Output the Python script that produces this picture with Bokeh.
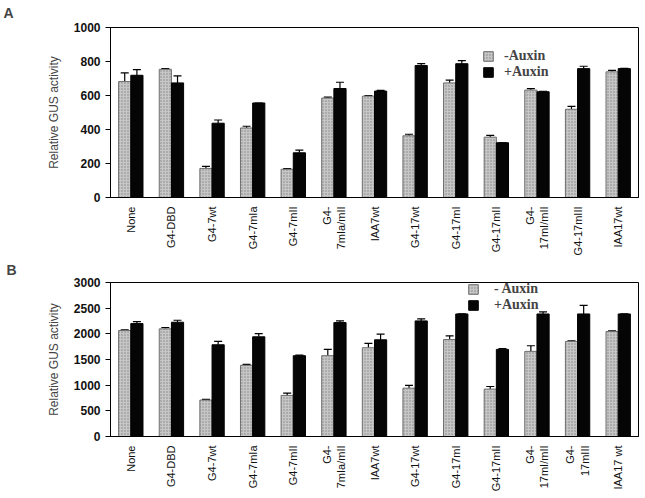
import math
from bokeh.plotting import figure
from bokeh.models import (ColumnDataSource, Whisker, TeeHead, Legend, LegendItem,
                          FixedTicker, FactorRange, Range1d)
from bokeh.transform import dodge
from bokeh.layouts import column
from bokeh.embed import file_html
from bokeh.resources import INLINE

# ---------------- data ----------------
cats_A = ["None", "G4-DBD", "G4-7wt", "G4-7mIa", "G4-7mII", "G4-\n7mIa/mII", "IAA7wt",
          "G4-17wt", "G4-17mI", "G4-17mII", "G4-\n17mI/mII", "G4-17mIII", "IAA17wt"]
minus_A = [682, 754, 171, 409, 166, 585, 596, 363, 674, 355, 632, 519, 739]
minus_A_err = [51, 4, 12, 10, 4, 5, 4, 9, 16, 11, 9, 17, 9]
plus_A = [719, 674, 437, 556, 263, 641, 626, 776, 787, 322, 622, 758, 758]
plus_A_err = [33, 41, 19, 0, 16, 37, 4, 11, 18, 0, 3, 14, 2]
yticks_A = [0, 200, 400, 600, 800, 1000]

cats_B = ["None", "G4-DBD", "G4-7wt", "G4-7mIa", "G4-7mII", "G4-\n7mIa/mII", "IAA7wt",
          "G4-17wt", "G4-17mI", "G4-17mII", "G4-\n17mI/mII", "G4-\n17mIII", "IAA17 wt"]
minus_B = [2065, 2097, 710, 1387, 800, 1574, 1729, 942, 1890, 923, 1658, 1852, 2045]
minus_B_err = [12, 26, 12, 19, 45, 123, 84, 52, 71, 51, 110, 13, 13]
plus_B = [2200, 2226, 1787, 1942, 1574, 2219, 1884, 2252, 2387, 1697, 2387, 2387, 2387]
plus_B_err = [39, 39, 65, 64, 13, 33, 110, 38, 0, 13, 39, 168, 0]
yticks_B = [0, 500, 1000, 1500, 2000, 2500, 3000]

SANS = "Liberation Sans"
SERIF = "Liberation Serif"


def panel(cats, minus, minus_err, plus, plus_err, yticks, ymax, letter, leg_txt,
          height, bl, bt, bb, title_offset, title_standoff, leg_xy, leg_standoff,
          leg_spacing):
    p = figure(x_range=FactorRange(*cats, range_padding=0), y_range=Range1d(0, ymax),
               width=640, height=height, output_backend="svg", toolbar_location=None,
               min_border_left=bl, min_border_right=2, min_border_top=bt,
               min_border_bottom=bb)
    src = ColumnDataSource(dict(cat=cats, minus=minus, plus=plus,
                                minus_top=[v + e for v, e in zip(minus, minus_err)],
                                plus_top=[v + e for v, e in zip(plus, plus_err)]))
    r1 = p.vbar(x=dodge("cat", -0.15, range=p.x_range), top="minus", width=0.3, source=src,
                fill_color="#c6c6c6", line_color="#6e6e6e", line_width=1,
                hatch_pattern="dot", hatch_color="#858585", hatch_scale=3, hatch_weight=1)
    r2 = p.vbar(x=dodge("cat", 0.15, range=p.x_range), top="plus", width=0.3, source=src,
                fill_color="#050505", line_color="#000000", line_width=1)
    for off, lo, hi in ((-0.15, "minus", "minus_top"), (0.15, "plus", "plus_top")):
        w = Whisker(base=dodge("cat", off, range=p.x_range), lower=lo, upper=hi, source=src,
                    line_color="black", line_width=1.2, lower_head=None,
                    upper_head=TeeHead(size=8, line_color="black", line_width=1.2))
        p.add_layout(w)

    p.title.text = letter
    p.title.align = "left"
    p.title.vertical_align = "top"
    p.title.offset = title_offset
    p.title.standoff = title_standoff
    p.title.text_font = SANS
    p.title.text_font_size = "14px"
    p.title.text_font_style = "bold"

    p.xgrid.visible = False
    p.ygrid.visible = False
    p.outline_line_color = "black"
    p.outline_line_width = 1

    p.yaxis.ticker = FixedTicker(ticks=yticks)
    p.yaxis.minor_tick_line_color = None
    p.yaxis.major_tick_out = 5
    p.yaxis.major_tick_in = 0
    p.yaxis.major_label_text_font = SANS
    p.yaxis.major_label_text_font_size = "12px"
    p.yaxis.major_label_text_font_style = "bold"
    p.yaxis.major_label_text_color = "#111"
    p.yaxis.axis_label = "Relative GUS activity"
    p.yaxis.axis_label_text_font = SANS
    p.yaxis.axis_label_text_font_size = "12px"
    p.yaxis.axis_label_text_font_style = "normal"
    p.yaxis.axis_label_standoff = 10
    p.yaxis.axis_line_color = "black"

    p.xaxis.major_label_orientation = math.pi / 2
    p.xaxis.major_label_text_font = SANS
    p.xaxis.major_label_text_font_size = "11px"
    p.xaxis.major_label_text_color = "#111"
    p.xaxis.major_tick_out = 0
    p.xaxis.major_tick_in = 0
    p.xaxis.major_label_standoff = 9
    p.xaxis.axis_line_color = "black"

    legend = Legend(items=[LegendItem(label=leg_txt[0], renderers=[r1]),
                           LegendItem(label=leg_txt[1], renderers=[r2])],
                    location=leg_xy, padding=0, margin=0, spacing=leg_spacing,
                    glyph_width=12, glyph_height=12, label_height=12,
                    label_standoff=leg_standoff, border_line_color=None,
                    background_fill_alpha=0, label_text_font=SERIF,
                    label_text_font_size="14px", label_text_font_style="bold")
    p.add_layout(legend)
    return p


pA = panel(cats_A, minus_A, minus_A_err, plus_A, plus_A_err, yticks_A, 1000, "A",
           ["-Auxin", "+Auxin"], 258, 110, 26, 61, -107, 9, (372, 117), 10, 0)
pB = panel(cats_B, minus_B, minus_B_err, plus_B, plus_B_err, yticks_B, 3000, "B",
           ["- Auxin", "+Auxin"], 238, 107, 23, 60, -104, 6, (357, 123), 15, 0)

layout = column(pA, pB, spacing=0)
open("out.html", "w").write(file_html(layout, INLINE))
